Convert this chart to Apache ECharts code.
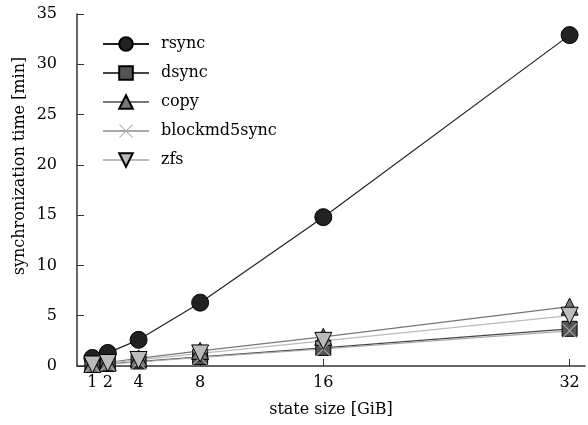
<!DOCTYPE html>
<html><head><meta charset="utf-8">
<script src="https://cdn.jsdelivr.net/npm/echarts@6/dist/echarts.min.js"></script>
<style>html,body{margin:0;padding:0;background:#fff}#c{width:588px;height:425px}</style>
</head><body><div id="c"></div>
<script>
const sizes = [1, 2, 4, 8, 16, 32];
const xTicks = [1, 2, 4, 8, 16, 32];
const yTicks = [0, 5, 10, 15, 20, 25, 30, 35];
const rsync = [0.8, 1.3, 2.6, 6.3, 14.8, 32.9];
const dsync = [0.1, 0.2, 0.45, 0.9, 1.8, 3.7];
const copy = [0.2, 0.35, 0.75, 1.5, 2.9, 5.9];
const blockmd5sync = [0.1, 0.2, 0.4, 0.85, 1.7, 3.5];
const zfs = [0.15, 0.3, 0.6, 1.25, 2.5, 5.0];
const names = ['rsync', 'dsync', 'copy', 'blockmd5sync', 'zfs'];

const FONT = 'DejaVu Serif';
const pairs = v => sizes.map((s, i) => [s, v[i]]);
const downTri = 'path://M0,0 L20,0 L10,17 Z';
const cross = 'path://M0,1 L1,0 L10,9 L19,0 L20,1 L11,10 L20,19 L19,20 L10,11 L1,20 L0,19 L9,10 Z';
function ser(name, data, symbol, size, fill, line, border) {
  return {
    name, type: 'line', data: pairs(data), symbol, symbolSize: size,
    lineStyle: { color: line, width: 1.2 },
    itemStyle: { color: fill, borderColor: border, borderWidth: border === fill ? 0 : 1 },
    emphasis: { disabled: true }, z: 2
  };
}
const chart = echarts.init(document.getElementById('c'), null, { renderer: 'canvas' });
chart.setOption({
  animation: false,
  backgroundColor: '#fff',
  textStyle: { fontFamily: FONT },
  grid: { left: 77, top: 14, right: 3, bottom: 59, containLabel: false },
  legend: {
    orient: 'vertical', left: 97, top: 31, itemWidth: 46, itemHeight: 17, itemGap: 13,
    data: names,
    textStyle: { fontFamily: FONT, fontSize: 16, color: '#000', padding: [0, 0, 0, 7] }
  },
  xAxis: {
    type: 'value', min: 0, max: 33,
    name: 'state size [GiB]', nameLocation: 'middle', nameGap: 36,
    nameTextStyle: { fontFamily: FONT, fontSize: 16, color: '#000' },
    axisLine: { lineStyle: { color: '#333', width: 1.5 } },
    axisTick: { show: true, inside: true, length: 7, customValues: xTicks, lineStyle: { color: '#333' } },
    axisLabel: { customValues: xTicks, fontFamily: FONT, fontSize: 16, color: '#000', margin: 9 },
    splitLine: { show: false }
  },
  yAxis: {
    type: 'value', min: 0, max: 35, interval: 5,
    axisLine: { show: true, lineStyle: { color: '#333', width: 1.5 } },
    axisTick: { show: true, inside: true, length: 7, lineStyle: { color: '#333' } },
    axisLabel: { fontFamily: FONT, fontSize: 16, color: '#000', margin: 20 },
    splitLine: { show: false }
  },
  graphic: [{
    type: 'text', x: 20, y: 166, rotation: Math.PI / 2,
    style: { text: 'synchronization time [min]', fontFamily: FONT, fontSize: 16, fill: '#000',
             align: 'center', verticalAlign: 'middle' }
  }],
  series: [
    ser('rsync', rsync, 'circle', 17, '#222', '#222', '#000'),
    ser('dsync', dsync, 'rect', 15, '#555', '#444', '#000'),
    ser('copy', copy, 'triangle', 17, '#777', '#777', '#000'),
    ser('blockmd5sync', blockmd5sync, cross, 15, '#aaa', '#aaa', '#aaa'),
    ser('zfs', zfs, downTri, 17, '#bbb', '#bbb', '#000')
  ]
});
</script></body></html>
